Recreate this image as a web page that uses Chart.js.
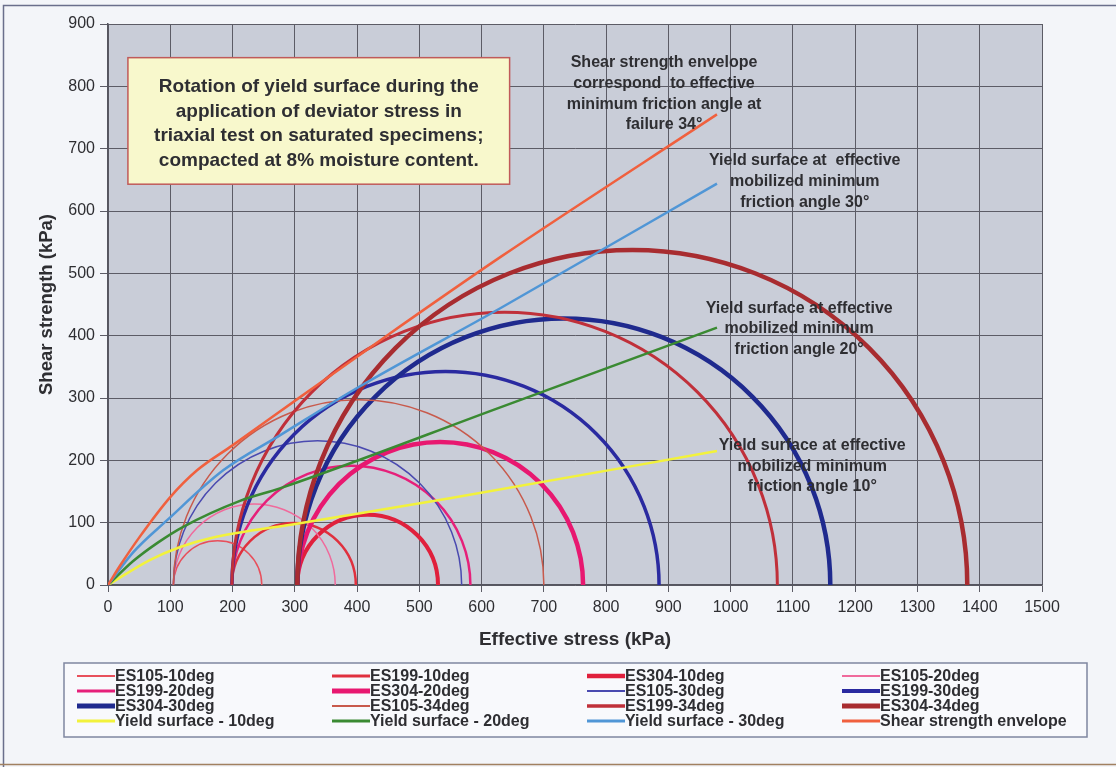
<!DOCTYPE html>
<html>
<head>
<meta charset="utf-8">
<script src="https://cdn.jsdelivr.net/npm/chart.js@4.4.1/dist/chart.umd.min.js"></script>
<style>
html,body{margin:0;padding:0;background:#f3f5f9;}
canvas{display:block;}
</style>
</head>
<body>
<canvas id="c" width="1116" height="767"></canvas>
<script>
// ---------------- DATA ----------------
const xTickLabels = [0,100,200,300,400,500,600,700,800,900,1000,1100,1200,1300,1400,1500];
const yTickLabels = [0,100,200,300,400,500,600,700,800,900];

const specimens = ['ES105','ES199','ES304'];
// effective minor principal stress (circle left end), kPa
const sigma3 = [105, 199, 304];
// effective major principal stress (circle right end), kPa, per mobilised angle
const sigma1_10deg = [247, 398, 530];
const sigma1_20deg = [365, 582, 763];
const sigma1_30deg = [568, 885, 1160];
const sigma1_34deg = [700, 1075, 1380];

// yield surfaces / envelope: effective stress (x) and shear strength (y), kPa
const yield10_x = [0, 67, 116, 164, 308, 549, 978];
const yield10_y = [0, 40, 61, 75, 99, 139, 215];
const yield20_x = [0, 40, 80, 120, 212, 276, 630, 978];
const yield20_y = [0, 38, 68, 93, 135, 155, 285, 413];
const yield30_x = [0, 40, 95, 185, 276, 400, 630, 978];
const yield30_y = [0, 52, 104, 184, 240, 316, 444, 644];
const envelope_x = [0, 20, 50, 100, 143, 200, 308, 442, 630, 978];
const envelope_y = [0, 32, 76, 141, 184, 224, 301, 396, 526, 755];

// ---------------- STYLES ----------------
const FONT = '"Liberation Sans", Arial, Helvetica, sans-serif';
const TEXT = '#2e2e32';
const circleGroups = [
  {tag:'10deg', s1: sigma1_10deg, colors:['#e8505c','#e0303e','#e0203c'], widths:[1.5,2.5,4]},
  {tag:'20deg', s1: sigma1_20deg, colors:['#f06a9c','#e6207a','#e81870'], widths:[1.5,2.5,4.5]},
  {tag:'30deg', s1: sigma1_30deg, colors:['#4a4ab0','#2a2aa0','#1f2a8e'], widths:[1.5,3.5,4.5]},
  {tag:'34deg', s1: sigma1_34deg, colors:['#c85a4c','#c0303a','#a82c30'], widths:[1.5,3,4.5]}
];
const lineStyles = [
  {label:'Yield surface - 10deg', xs: yield10_x, ys: yield10_y, color:'#f2f23c', width:2.5},
  {label:'Yield surface - 20deg', xs: yield20_x, ys: yield20_y, color:'#3a8a32', width:2.5},
  {label:'Yield surface - 30deg', xs: yield30_x, ys: yield30_y, color:'#5096d6', width:2.5},
  {label:'Shear strength envelope', xs: envelope_x, ys: envelope_y, color:'#f0603e', width:2.5}
];

// Mohr circle radius in pixels, taken from the x scale (sigma1 - sigma3) / 2
function mohrRadius(ctx) {
  const sc = ctx.chart.scales.x;
  const d = ctx.raw;
  if (!sc || !d) return 0;
  const r = Math.abs(sc.getPixelForValue(d.s1) - sc.getPixelForValue(d.s3)) / 2;
  return isFinite(r) ? r : 0;
}

const datasets = [];
circleGroups.forEach(g => {
  specimens.forEach((sp, i) => {
    datasets.push({
      type: 'bubble',
      label: sp + '-' + g.tag,
      parsing: false,
      data: [{x: (sigma3[i] + g.s1[i]) / 2, y: 0, s3: sigma3[i], s1: g.s1[i]}],
      borderColor: g.colors[i],
      backgroundColor: 'rgba(0,0,0,0)',
      borderWidth: g.widths[i],
      pointStyle: 'circle',
      radius: mohrRadius,
      clip: 0
    });
  });
});
lineStyles.forEach(l => {
  datasets.push({
    type: 'line',
    label: l.label,
    data: l.xs.map((x, i) => ({x: x, y: l.ys[i]})),
    borderColor: l.color,
    backgroundColor: l.color,
    borderWidth: l.width,
    pointRadius: 0,
    fill: false,
    cubicInterpolationMode: 'monotone'
  });
});
datasets.forEach((d, i) => { d.order = 100 - i; });

// annotation texts, anchored in data units (kPa)
const titleBox = {x0: 32, x1: 645, y0: 846, y1: 643,
  lines: ['Rotation of yield surface during the',
          'application of deviator stress in',
          'triaxial test on saturated specimens;',
          'compacted at 8% moisture content.']};
const notes = [
  {x: 893, y: 838, lines: ['Shear strength envelope','correspond  to effective','minimum friction angle at','failure 34°']},
  {x: 1119, y: 681, lines: ['Yield surface at  effective','mobilized minimum','friction angle 30°']},
  {x: 1110, y: 444, lines: ['Yield surface at effective','mobilized minimum','friction angle 20°']},
  {x: 1131, y: 224, lines: ['Yield surface at effective','mobilized minimum','friction angle 10°']}
];

const decor = {
  id: 'decor',
  beforeDraw(chart) {
    const {ctx, chartArea: a} = chart;
    ctx.save();
    ctx.fillStyle = '#f3f5f9';
    ctx.fillRect(0, 0, chart.width, chart.height);
    ctx.strokeStyle = '#6a6f8c';
    ctx.lineWidth = 1.5;
    ctx.beginPath();
    ctx.moveTo(3.5, 767); ctx.lineTo(3.5, 5.5); ctx.lineTo(1116, 5.5);
    ctx.stroke();
    ctx.strokeStyle = '#a08060';
    ctx.beginPath(); ctx.moveTo(0, 764.5); ctx.lineTo(1116, 764.5); ctx.stroke();
    ctx.fillStyle = '#c9cdd8';
    ctx.fillRect(a.left, a.top, a.right - a.left, a.bottom - a.top);
    ctx.restore();
  },
  afterDraw(chart) {
    const {ctx} = chart;
    const sx = chart.scales.x, sy = chart.scales.y;
    ctx.save();
    // title box
    const bx0 = sx.getPixelForValue(titleBox.x0), bx1 = sx.getPixelForValue(titleBox.x1);
    const by0 = sy.getPixelForValue(titleBox.y0), by1 = sy.getPixelForValue(titleBox.y1);
    ctx.fillStyle = '#f8f8cc';
    ctx.fillRect(bx0, by0, bx1 - bx0, by1 - by0);
    ctx.strokeStyle = '#c05a5a';
    ctx.lineWidth = 1.5;
    ctx.strokeRect(bx0, by0, bx1 - bx0, by1 - by0);
    ctx.fillStyle = TEXT;
    ctx.font = 'bold 19px ' + FONT;
    ctx.textAlign = 'center';
    ctx.textBaseline = 'middle';
    const cx = (bx0 + bx1) / 2;
    titleBox.lines.forEach((t, i) => ctx.fillText(t, cx, by0 + 29 + i * 24.7));
    // notes
    ctx.font = 'bold 16px ' + FONT;
    notes.forEach(n => {
      const px = sx.getPixelForValue(n.x), py = sy.getPixelForValue(n.y);
      n.lines.forEach((t, i) => ctx.fillText(t, px, py + i * 20.8));
    });
    // legend
    const L = {x0: 64, y0: 663, x1: 1087, y1: 737};
    ctx.fillStyle = '#f8f9fc';
    ctx.fillRect(L.x0, L.y0, L.x1 - L.x0, L.y1 - L.y0);
    ctx.strokeStyle = '#7f86a0';
    ctx.lineWidth = 1.5;
    ctx.strokeRect(L.x0, L.y0, L.x1 - L.x0, L.y1 - L.y0);
    const cols = [77, 332, 587, 842];
    const rows = [676, 691, 706, 721];
    ctx.textAlign = 'left';
    ctx.font = 'bold 16px ' + FONT;
    chart.data.datasets.forEach((d, i) => {
      const c = i % 4, r = Math.floor(i / 4);
      const x = cols[c], y = rows[r];
      ctx.strokeStyle = d.borderColor;
      ctx.lineWidth = Math.min(d.borderWidth + 0.5, 5);
      ctx.beginPath(); ctx.moveTo(x, y); ctx.lineTo(x + 38, y); ctx.stroke();
      ctx.fillStyle = TEXT;
      ctx.fillText(d.label, x + 38, y + 1);
    });
    ctx.restore();
  }
};

Chart.defaults.font.family = FONT;
Chart.defaults.color = TEXT;

new Chart(document.getElementById('c'), {
  type: 'scatter',
  data: {datasets},
  options: {
    responsive: false,
    animation: false,
    devicePixelRatio: 1,
    events: [],
    layout: {padding: {left: 0, right: 74, top: 24, bottom: 112}},
    plugins: {legend: {display: false}, tooltip: {enabled: false}},
    scales: {
      x: {
        type: 'linear', min: 0, max: 1500,
        afterFit: s => { s.height = 70; },
        afterBuildTicks: s => { s.ticks = xTickLabels.map(v => ({value: v})); },
        ticks: {autoSkip: false, maxRotation: 0, padding: 6,
                font: {size: 16}, color: TEXT, callback: v => String(v)},
        grid: {color: '#5c5c66', lineWidth: 1, tickLength: 7, tickColor: '#5c5c66'},
        border: {color: '#55555f', width: 1.5},
        title: {display: true, text: 'Effective stress (kPa)', color: TEXT,
                font: {size: 19, weight: 'bold'}, padding: {top: 0, bottom: 4}}
      },
      y: {
        type: 'linear', min: 0, max: 900,
        afterFit: s => { s.width = 108; },
        afterBuildTicks: s => { s.ticks = yTickLabels.map(v => ({value: v})); },
        ticks: {padding: 5, font: {size: 16}, color: TEXT, callback: v => String(v)},
        grid: {color: '#5c5c66', lineWidth: 1, tickLength: 8, tickColor: '#5c5c66'},
        border: {color: '#55555f', width: 1.5},
        title: {display: true, text: 'Shear strength (kPa)', color: TEXT,
                font: {size: 18.5, weight: 'bold'}, padding: {top: 36, bottom: 0}}
      }
    }
  },
  plugins: [decor]
});
</script>
</body>
</html>
